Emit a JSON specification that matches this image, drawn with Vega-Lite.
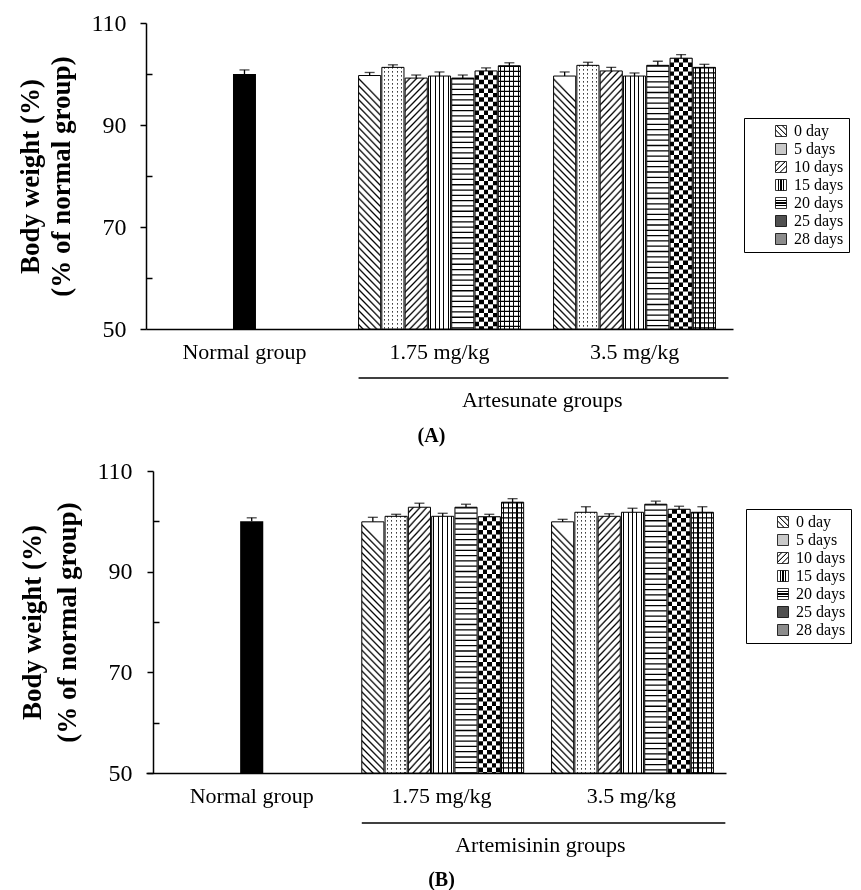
{
"$schema": "https://vega.github.io/schema/vega-lite/v6.json",
"background": "white",
"padding": {"left": 16, "top": 11, "right": 5, "bottom": 5},
"bounds": "flush",
"config": {"font": "Liberation Serif", "view": {"stroke": null}, "concat": {"spacing": 142}},
"params": [
{"name": "sd", "value": [{"offset":0,"color":"#fff"},{"offset":0.012,"color":"#fff"},{"offset":0.019,"color":"#000"},
{"offset":0.025,"color":"#fff"},{"offset":0.037,"color":"#fff"},{"offset":0.044,"color":"#000"},
{"offset":0.05,"color":"#fff"},{"offset":0.062,"color":"#fff"},{"offset":0.069,"color":"#000"},
{"offset":0.075,"color":"#fff"},{"offset":0.087,"color":"#fff"},{"offset":0.094,"color":"#000"},
{"offset":0.1,"color":"#fff"},{"offset":0.112,"color":"#fff"},{"offset":0.119,"color":"#000"},
{"offset":0.125,"color":"#fff"},{"offset":0.137,"color":"#fff"},{"offset":0.144,"color":"#000"},
{"offset":0.15,"color":"#fff"},{"offset":0.162,"color":"#fff"},{"offset":0.169,"color":"#000"},
{"offset":0.175,"color":"#fff"},{"offset":0.187,"color":"#fff"},{"offset":0.194,"color":"#000"},
{"offset":0.2,"color":"#fff"},{"offset":0.212,"color":"#fff"},{"offset":0.219,"color":"#000"},
{"offset":0.225,"color":"#fff"},{"offset":0.237,"color":"#fff"},{"offset":0.244,"color":"#000"},
{"offset":0.25,"color":"#fff"},{"offset":0.262,"color":"#fff"},{"offset":0.269,"color":"#000"},
{"offset":0.275,"color":"#fff"},{"offset":0.287,"color":"#fff"},{"offset":0.294,"color":"#000"},
{"offset":0.3,"color":"#fff"},{"offset":0.312,"color":"#fff"},{"offset":0.319,"color":"#000"},
{"offset":0.325,"color":"#fff"},{"offset":0.337,"color":"#fff"},{"offset":0.344,"color":"#000"},
{"offset":0.35,"color":"#fff"},{"offset":0.362,"color":"#fff"},{"offset":0.369,"color":"#000"},
{"offset":0.375,"color":"#fff"},{"offset":0.387,"color":"#fff"},{"offset":0.394,"color":"#000"},
{"offset":0.4,"color":"#fff"},{"offset":0.412,"color":"#fff"},{"offset":0.419,"color":"#000"},
{"offset":0.425,"color":"#fff"},{"offset":0.437,"color":"#fff"},{"offset":0.444,"color":"#000"},
{"offset":0.45,"color":"#fff"},{"offset":0.462,"color":"#fff"},{"offset":0.469,"color":"#000"},
{"offset":0.475,"color":"#fff"},{"offset":0.487,"color":"#fff"},{"offset":0.494,"color":"#000"},
{"offset":0.5,"color":"#fff"},{"offset":0.512,"color":"#fff"},{"offset":0.519,"color":"#000"},
{"offset":0.525,"color":"#fff"},{"offset":0.537,"color":"#fff"},{"offset":0.544,"color":"#000"},
{"offset":0.55,"color":"#fff"},{"offset":0.562,"color":"#fff"},{"offset":0.569,"color":"#000"},
{"offset":0.575,"color":"#fff"},{"offset":0.587,"color":"#fff"},{"offset":0.594,"color":"#000"},
{"offset":0.6,"color":"#fff"},{"offset":0.612,"color":"#fff"},{"offset":0.619,"color":"#000"},
{"offset":0.625,"color":"#fff"},{"offset":0.637,"color":"#fff"},{"offset":0.644,"color":"#000"},
{"offset":0.65,"color":"#fff"},{"offset":0.662,"color":"#fff"},{"offset":0.669,"color":"#000"},
{"offset":0.675,"color":"#fff"},{"offset":0.687,"color":"#fff"},{"offset":0.694,"color":"#000"},
{"offset":0.7,"color":"#fff"},{"offset":0.712,"color":"#fff"},{"offset":0.719,"color":"#000"},
{"offset":0.725,"color":"#fff"},{"offset":0.737,"color":"#fff"},{"offset":0.744,"color":"#000"},
{"offset":0.75,"color":"#fff"},{"offset":0.762,"color":"#fff"},{"offset":0.769,"color":"#000"},
{"offset":0.775,"color":"#fff"},{"offset":0.787,"color":"#fff"},{"offset":0.794,"color":"#000"},
{"offset":0.8,"color":"#fff"},{"offset":0.812,"color":"#fff"},{"offset":0.819,"color":"#000"},
{"offset":0.825,"color":"#fff"},{"offset":0.837,"color":"#fff"},{"offset":0.844,"color":"#000"},
{"offset":0.85,"color":"#fff"},{"offset":0.862,"color":"#fff"},{"offset":0.869,"color":"#000"},
{"offset":0.875,"color":"#fff"},{"offset":0.887,"color":"#fff"},{"offset":0.894,"color":"#000"},
{"offset":0.9,"color":"#fff"},{"offset":0.912,"color":"#fff"},{"offset":0.919,"color":"#000"},
{"offset":0.925,"color":"#fff"},{"offset":0.937,"color":"#fff"},{"offset":0.944,"color":"#000"},
{"offset":0.95,"color":"#fff"},{"offset":0.962,"color":"#fff"},{"offset":0.969,"color":"#000"},
{"offset":0.975,"color":"#fff"},{"offset":0.987,"color":"#fff"},{"offset":0.994,"color":"#000"},
{"offset":1,"color":"#fff"}]},
{"name": "ls", "value": [{"offset":0,"color":"#fff"},{"offset":0.14,"color":"#fff"},{"offset":0.2,"color":"#000"},{"offset":0.25,"color":"#fff"},{"offset":0.39,"color":"#fff"},{"offset":0.45,"color":"#000"},{"offset":0.5,"color":"#fff"},{"offset":0.64,"color":"#fff"},{"offset":0.7,"color":"#000"},{"offset":0.75,"color":"#fff"},{"offset":0.89,"color":"#fff"},{"offset":0.95,"color":"#000"},{"offset":1,"color":"#fff"}]},
{"name": "lsV", "value": [{"offset":0,"color":"#fff"},{"offset":0.2,"color":"#fff"},{"offset":0.2,"color":"#000"},{"offset":0.3,"color":"#000"},{"offset":0.3,"color":"#fff"},{"offset":0.45,"color":"#fff"},{"offset":0.45,"color":"#000"},{"offset":0.55,"color":"#000"},{"offset":0.55,"color":"#fff"},{"offset":0.7,"color":"#fff"},{"offset":0.7,"color":"#000"},{"offset":0.8,"color":"#000"},{"offset":0.8,"color":"#fff"},{"offset":1,"color":"#fff"}]},
{"name": "gB", "expr": "{gradient: 'linear', x1: 0.1, y1: 0, x2: 0.001, y2: 1.1, stops: sd}"},
{"name": "gF", "expr": "{gradient: 'linear', x1: 0, y1: 0, x2: 0.1, y2: 1.1, stops: sd}"},
{"name": "gV", "value": {"gradient": "linear", "x1": 0, "y1": 0, "x2": 1, "y2": 0, "stops": [{"offset":0,"color":"#fff"},{"offset":0.075,"color":"#fff"},{"offset":0.075,"color":"#000"},{"offset":0.125,"color":"#000"},{"offset":0.125,"color":"#fff"},{"offset":0.275,"color":"#fff"},{"offset":0.275,"color":"#000"},{"offset":0.325,"color":"#000"},{"offset":0.325,"color":"#fff"},{"offset":0.475,"color":"#fff"},{"offset":0.475,"color":"#000"},{"offset":0.525,"color":"#000"},{"offset":0.525,"color":"#fff"},{"offset":0.675,"color":"#fff"},{"offset":0.675,"color":"#000"},{"offset":0.725,"color":"#000"},{"offset":0.725,"color":"#fff"},{"offset":0.875,"color":"#fff"},{"offset":0.875,"color":"#000"},{"offset":0.925,"color":"#000"},{"offset":0.925,"color":"#fff"},{"offset":1,"color":"#fff"}]}},
{"name": "gC", "value": {"gradient": "linear", "x1": 0, "y1": 0, "x2": 1, "y2": 0, "stops": [{"offset":0,"color":"#fff"},{"offset":0.2,"color":"#fff"},{"offset":0.2,"color":"#000"},{"offset":0.4,"color":"#000"},{"offset":0.4,"color":"#fff"},{"offset":0.6,"color":"#fff"},{"offset":0.6,"color":"#000"},{"offset":0.8,"color":"#000"},{"offset":0.8,"color":"#fff"},{"offset":1,"color":"#fff"}]}},
{"name": "lg0", "expr": "{gradient: 'linear', x1: 1, y1: 0, x2: 0.001, y2: 1, stops: ls}"},
{"name": "lg10", "expr": "{gradient: 'linear', x1: 0, y1: 0, x2: 1, y2: 1, stops: ls}"},
{"name": "lg15", "expr": "{gradient: 'linear', x1: 0, y1: 0, x2: 1, y2: 0, stops: lsV}"},
{"name": "lg20", "expr": "{gradient: 'linear', x1: 0, y1: 0, x2: 0.001, y2: 1, stops: lsV}"}
],
"datasets": {
"A": [
{"group":"Normal group","value":100,"hi":100.8},
{"group":"1.75 mg/kg","day":"0 day","value":99.7,"hi":100.3},
{"group":"1.75 mg/kg","day":"5 days","value":101.3,"hi":101.8},
{"group":"1.75 mg/kg","day":"10 days","value":99.2,"hi":99.8},
{"group":"1.75 mg/kg","day":"15 days","value":99.6,"hi":100.4},
{"group":"1.75 mg/kg","day":"20 days","value":99.2,"hi":99.8},
{"group":"1.75 mg/kg","day":"25 days","value":100.6,"hi":101.2},
{"group":"1.75 mg/kg","day":"28 days","value":101.6,"hi":102.2},
{"group":"3.5 mg/kg","day":"0 day","value":99.6,"hi":100.4},
{"group":"3.5 mg/kg","day":"5 days","value":101.7,"hi":102.3},
{"group":"3.5 mg/kg","day":"10 days","value":100.6,"hi":101.3},
{"group":"3.5 mg/kg","day":"15 days","value":99.6,"hi":100.2},
{"group":"3.5 mg/kg","day":"20 days","value":101.7,"hi":102.5},
{"group":"3.5 mg/kg","day":"25 days","value":103.1,"hi":103.8},
{"group":"3.5 mg/kg","day":"28 days","value":101.3,"hi":101.9}
],
"B": [
{"group":"Normal group","value":100,"hi":100.7},
{"group":"1.75 mg/kg","day":"0 day","value":99.9,"hi":100.8},
{"group":"1.75 mg/kg","day":"5 days","value":101.0,"hi":101.4},
{"group":"1.75 mg/kg","day":"10 days","value":102.8,"hi":103.6},
{"group":"1.75 mg/kg","day":"15 days","value":101.0,"hi":101.6},
{"group":"1.75 mg/kg","day":"20 days","value":102.8,"hi":103.4},
{"group":"1.75 mg/kg","day":"25 days","value":100.9,"hi":101.4},
{"group":"1.75 mg/kg","day":"28 days","value":103.8,"hi":104.5},
{"group":"3.5 mg/kg","day":"0 day","value":99.9,"hi":100.4},
{"group":"3.5 mg/kg","day":"5 days","value":101.8,"hi":102.9},
{"group":"3.5 mg/kg","day":"10 days","value":101.0,"hi":101.5},
{"group":"3.5 mg/kg","day":"15 days","value":101.8,"hi":102.6},
{"group":"3.5 mg/kg","day":"20 days","value":103.4,"hi":104.0},
{"group":"3.5 mg/kg","day":"25 days","value":102.4,"hi":103.0},
{"group":"3.5 mg/kg","day":"28 days","value":101.8,"hi":102.9}
]
},
"resolve": {"scale": {"fill": "independent", "strokeDash": "independent"}},
"vconcat": [
{
"width": 587, "height": 306,
"data": {"name": "A"},
"encoding": {
"x": {"field": "group", "type": "nominal", "scale": {"domain": ["Normal group","1.75 mg/kg","3.5 mg/kg"], "paddingInner": 0.17, "paddingOuter": 0.09}, "axis": {"title": null, "ticks": false, "labelAngle": 0, "labelFontSize": 22, "labelColor": "black", "labelPadding": 12, "domainColor": "black", "domainWidth": 1.5}},
"y": {"field": "value", "type": "quantitative", "scale": {"domain": [50,110], "nice": false, "zero": false}, "axis": {"title": ["Body weight (%)", "(% of normal group)"], "values": [50,60,70,80,90,100,110], "labelExpr": "datum.value % 20 == 10 ? datum.label : ''", "grid": false, "tickSize": {"condition": {"test": "datum.value % 20 == 10", "value": 6}, "value": -6}, "tickColor": "black", "tickWidth": 1.5, "domainColor": "black", "domainWidth": 1.5, "labelFontSize": 24, "labelColor": "black", "labelPadding": 14, "titleFontSize": 27, "titleFontWeight": "bold", "titleColor": "black", "titleLineHeight": 31, "titlePadding": 15}}
},
"layer": [
{"transform": [{"filter": "datum.group == 'Normal group'"}], "mark": {"type": "bar", "fill": "black", "width": {"band": 0.142}}, "encoding": {"y2": {"datum": 50}}},
{"transform": [{"filter": "datum.group != 'Normal group'"}], "mark": {"type": "bar"}, "encoding": {"y2": {"datum": 50}, "xOffset": {"field": "day", "type": "nominal", "scale": {"domain": ["0 day","5 days","10 days","15 days","20 days","25 days","28 days"], "paddingInner": 0.05, "paddingOuter": 0}}, "fill": {"field": "day", "type": "nominal", "scale": {"domain": ["0 day","5 days","10 days","15 days","20 days","25 days","28 days"], "range": [{"expr": "lg0"}, "#c8c8c8", {"expr": "lg10"}, {"expr": "lg15"}, {"expr": "lg20"}, "#505050", "#8c8c8c"]}, "legend": {"title": null, "orient": "none", "legendX": 598, "legendY": 95, "symbolType": "square", "symbolSize": 121, "symbolStrokeColor": "black", "symbolStrokeWidth": 0.8, "symbolOffset": 24, "labelFontSize": 16, "labelColor": "black", "labelOffset": 5, "rowPadding": 2, "padding": 5, "strokeColor": "black", "fillColor": "white", "labelLimit": 200}}}},
{"transform": [{"filter": "datum.group != 'Normal group'"}], "mark": {"type": "bar", "fill": "white"}, "encoding": {"y2": {"datum": 50}, "xOffset": {"field": "day", "type": "nominal"}}},
{"transform": [{"filter": "datum.day == '0 day'"}], "mark": {"type": "bar", "fill": {"expr": "gB"}}, "encoding": {"y2": {"datum": 50}, "xOffset": {"field": "day", "type": "nominal"}}},
{"transform": [{"filter": "datum.day == '10 days'"}], "mark": {"type": "bar", "fill": {"expr": "gF"}}, "encoding": {"y2": {"datum": 50}, "xOffset": {"field": "day", "type": "nominal"}}},
{"transform": [{"filter": "datum.day == '15 days'"}], "mark": {"type": "bar", "fill": {"expr": "gV"}}, "encoding": {"y2": {"datum": 50}, "xOffset": {"field": "day", "type": "nominal"}}},
{"transform": [{"filter": "indexof(['5 days','20 days','25 days','28 days'], datum.day) >= 0"}], "mark": {"type": "rule", "stroke": "black", "strokeWidth": 22}, "encoding": {"xOffset": {"field": "day", "type": "nominal"}, "y2": {"datum": 50}, "strokeDash": {"field": "day", "type": "nominal", "scale": {"domain": ["5 days","20 days","25 days","28 days"], "range": [[1.2,2.8],[1.3,4],[4.4,4.4],[1.2,3.8]]}, "legend": null}}},
{"transform": [{"filter": "datum.day == '5 days'"}], "mark": {"type": "bar", "fill": {"expr": "gV"}, "blend": "lighten"}, "encoding": {"y2": {"datum": 50}, "xOffset": {"field": "day", "type": "nominal"}}},
{"transform": [{"filter": "datum.day == '25 days'"}], "mark": {"type": "bar", "fill": {"expr": "gC"}, "blend": "difference"}, "encoding": {"y2": {"datum": 50}, "xOffset": {"field": "day", "type": "nominal"}}},
{"transform": [{"filter": "datum.day == '28 days'"}], "mark": {"type": "bar", "fill": {"expr": "gV"}, "blend": "darken"}, "encoding": {"y2": {"datum": 50}, "xOffset": {"field": "day", "type": "nominal"}}},
{"transform": [{"filter": "datum.group != 'Normal group'"}], "mark": {"type": "bar", "fillOpacity": 0, "stroke": "black", "strokeWidth": 1}, "encoding": {"y2": {"datum": 50}, "xOffset": {"field": "day", "type": "nominal"}}},
{"transform": [{"filter": "datum.group != 'Normal group'"}], "mark": {"type": "rule", "color": "black", "strokeWidth": 1.3}, "encoding": {"xOffset": {"field": "day", "type": "nominal"}, "y2": {"field": "hi"}}},
{"transform": [{"filter": "datum.group != 'Normal group'"}], "mark": {"type": "tick", "color": "black", "size": 10, "thickness": 1.3}, "encoding": {"xOffset": {"field": "day", "type": "nominal"}, "y": {"field": "hi", "type": "quantitative"}}},
{"transform": [{"filter": "datum.group == 'Normal group'"}], "mark": {"type": "rule", "color": "black", "strokeWidth": 1.3}, "encoding": {"y2": {"field": "hi"}}},
{"transform": [{"filter": "datum.group == 'Normal group'"}], "mark": {"type": "tick", "color": "black", "size": 10, "thickness": 1.3}, "encoding": {"y": {"field": "hi", "type": "quantitative"}}},
{"transform": [{"filter": "datum.group == 'Normal group'"}], "mark": {"type": "rule", "color": "black", "strokeWidth": 1.5, "clip": false}, "encoding": {"x": {"datum": "1.75 mg/kg", "bandPosition": 0}, "x2": {"datum": "3.5 mg/kg", "bandPosition": 1.08}, "y": {"datum": 40.4}}},
{"transform": [{"filter": "datum.group == 'Normal group'"}], "mark": {"type": "text", "fontSize": 22, "color": "black", "baseline": "middle", "clip": false}, "encoding": {"x": {"datum": "3.5 mg/kg", "bandPosition": -0.07}, "y": {"datum": 36.1}, "text": {"value": "Artesunate groups"}}},
{"transform": [{"filter": "datum.group == 'Normal group'"}], "mark": {"type": "text", "fontSize": 20, "fontWeight": "bold", "color": "black", "baseline": "middle", "clip": false}, "encoding": {"x": {"datum": "1.75 mg/kg", "bandPosition": 0.45}, "y": {"datum": 29}, "text": {"value": "(A)"}}}
]
},
{
"width": 580, "height": 302,
"data": {"name": "B"},
"encoding": {
"x": {"field": "group", "type": "nominal", "scale": {"domain": ["Normal group","1.75 mg/kg","3.5 mg/kg"], "paddingInner": 0.16, "paddingOuter": 0.108, "align": 0.634}, "axis": {"title": null, "ticks": false, "labelAngle": 0, "labelFontSize": 22, "labelColor": "black", "labelPadding": 12, "domainColor": "black", "domainWidth": 1.5}},
"y": {"field": "value", "type": "quantitative", "scale": {"domain": [50,110], "nice": false, "zero": false}, "axis": {"title": ["Body weight (%)", "(% of normal group)"], "offset": -7, "values": [50,60,70,80,90,100,110], "labelExpr": "datum.value % 20 == 10 ? datum.label : ''", "grid": false, "tickSize": {"condition": {"test": "datum.value % 20 == 10", "value": 6}, "value": -6}, "tickColor": "black", "tickWidth": 1.5, "domainColor": "black", "domainWidth": 1.5, "labelFontSize": 24, "labelColor": "black", "labelPadding": 15, "titleFontSize": 27, "titleFontWeight": "bold", "titleColor": "black", "titleLineHeight": 35, "titlePadding": 15}}
},
"layer": [
{"transform": [{"filter": "datum.group == 'Normal group'"}], "mark": {"type": "bar", "fill": "black", "width": {"band": 0.145}}, "encoding": {"y2": {"datum": 50}}},
{"transform": [{"filter": "datum.group != 'Normal group'"}], "mark": {"type": "bar"}, "encoding": {"y2": {"datum": 50}, "xOffset": {"field": "day", "type": "nominal", "scale": {"domain": ["0 day","5 days","10 days","15 days","20 days","25 days","28 days"], "paddingInner": 0.05, "paddingOuter": 0}}, "fill": {"field": "day", "type": "nominal", "scale": {"domain": ["0 day","5 days","10 days","15 days","20 days","25 days","28 days"], "range": [{"expr": "lg0"}, "#c8c8c8", {"expr": "lg10"}, {"expr": "lg15"}, {"expr": "lg20"}, "#505050", "#8c8c8c"]}, "legend": {"title": null, "orient": "none", "legendX": 600, "legendY": 38, "symbolType": "square", "symbolSize": 121, "symbolStrokeColor": "black", "symbolStrokeWidth": 0.8, "symbolOffset": 24, "labelFontSize": 16, "labelColor": "black", "labelOffset": 5, "rowPadding": 2, "padding": 5, "strokeColor": "black", "fillColor": "white", "labelLimit": 200}}}},
{"transform": [{"filter": "datum.group != 'Normal group'"}], "mark": {"type": "bar", "fill": "white"}, "encoding": {"y2": {"datum": 50}, "xOffset": {"field": "day", "type": "nominal"}}},
{"transform": [{"filter": "datum.day == '0 day'"}], "mark": {"type": "bar", "fill": {"expr": "gB"}}, "encoding": {"y2": {"datum": 50}, "xOffset": {"field": "day", "type": "nominal"}}},
{"transform": [{"filter": "datum.day == '10 days'"}], "mark": {"type": "bar", "fill": {"expr": "gF"}}, "encoding": {"y2": {"datum": 50}, "xOffset": {"field": "day", "type": "nominal"}}},
{"transform": [{"filter": "datum.day == '15 days'"}], "mark": {"type": "bar", "fill": {"expr": "gV"}}, "encoding": {"y2": {"datum": 50}, "xOffset": {"field": "day", "type": "nominal"}}},
{"transform": [{"filter": "indexof(['5 days','20 days','25 days','28 days'], datum.day) >= 0"}], "mark": {"type": "rule", "stroke": "black", "strokeWidth": 21.7}, "encoding": {"xOffset": {"field": "day", "type": "nominal"}, "y2": {"datum": 50}, "strokeDash": {"field": "day", "type": "nominal", "scale": {"domain": ["5 days","20 days","25 days","28 days"], "range": [[1.2,2.8],[1.3,4],[4.4,4.4],[1.2,3.8]]}, "legend": null}}},
{"transform": [{"filter": "datum.day == '5 days'"}], "mark": {"type": "bar", "fill": {"expr": "gV"}, "blend": "lighten"}, "encoding": {"y2": {"datum": 50}, "xOffset": {"field": "day", "type": "nominal"}}},
{"transform": [{"filter": "datum.day == '25 days'"}], "mark": {"type": "bar", "fill": {"expr": "gC"}, "blend": "difference"}, "encoding": {"y2": {"datum": 50}, "xOffset": {"field": "day", "type": "nominal"}}},
{"transform": [{"filter": "datum.day == '28 days'"}], "mark": {"type": "bar", "fill": {"expr": "gV"}, "blend": "darken"}, "encoding": {"y2": {"datum": 50}, "xOffset": {"field": "day", "type": "nominal"}}},
{"transform": [{"filter": "datum.group != 'Normal group'"}], "mark": {"type": "bar", "fillOpacity": 0, "stroke": "black", "strokeWidth": 1}, "encoding": {"y2": {"datum": 50}, "xOffset": {"field": "day", "type": "nominal"}}},
{"transform": [{"filter": "datum.group != 'Normal group'"}], "mark": {"type": "rule", "color": "black", "strokeWidth": 1.3}, "encoding": {"xOffset": {"field": "day", "type": "nominal"}, "y2": {"field": "hi"}}},
{"transform": [{"filter": "datum.group != 'Normal group'"}], "mark": {"type": "tick", "color": "black", "size": 10, "thickness": 1.3}, "encoding": {"xOffset": {"field": "day", "type": "nominal"}, "y": {"field": "hi", "type": "quantitative"}}},
{"transform": [{"filter": "datum.group == 'Normal group'"}], "mark": {"type": "rule", "color": "black", "strokeWidth": 1.3}, "encoding": {"y2": {"field": "hi"}}},
{"transform": [{"filter": "datum.group == 'Normal group'"}], "mark": {"type": "tick", "color": "black", "size": 10, "thickness": 1.3}, "encoding": {"y": {"field": "hi", "type": "quantitative"}}},
{"transform": [{"filter": "datum.group == 'Normal group'"}], "mark": {"type": "rule", "color": "black", "strokeWidth": 1.5, "clip": false}, "encoding": {"x": {"datum": "1.75 mg/kg", "bandPosition": 0}, "x2": {"datum": "3.5 mg/kg", "bandPosition": 1.09}, "y": {"datum": 40.07}}},
{"transform": [{"filter": "datum.group == 'Normal group'"}], "mark": {"type": "text", "fontSize": 22, "color": "black", "baseline": "middle", "clip": false}, "encoding": {"x": {"datum": "3.5 mg/kg", "bandPosition": -0.07}, "y": {"datum": 35.7}, "text": {"value": "Artemisinin groups"}}},
{"transform": [{"filter": "datum.group == 'Normal group'"}], "mark": {"type": "text", "fontSize": 20, "fontWeight": "bold", "color": "black", "baseline": "middle", "clip": false}, "encoding": {"x": {"datum": "1.75 mg/kg", "bandPosition": 0.5}, "y": {"datum": 28.7}, "text": {"value": "(B)"}}}
]
}
]
}
